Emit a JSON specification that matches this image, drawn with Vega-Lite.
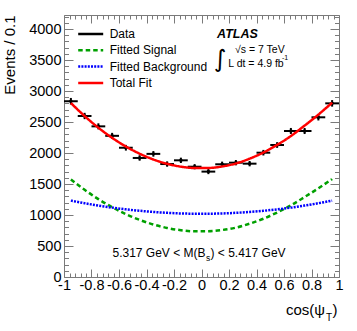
{
  "$schema": "https://vega.github.io/schema/vega-lite/v6.json",
  "width": 275,
  "height": 262,
  "autosize": {"type": "none"},
  "padding": {"left": 64, "top": 15, "right": 18, "bottom": 54},
  "background": "white",
  "config": {
    "view": {"stroke": "#7a7a7a", "strokeWidth": 1},
    "font": "Liberation Sans",
    "axis": {"domain": false, "grid": false, "tickColor": "#7a7a7a", "tickWidth": 1, "labelColor": "black", "labelFont": "Liberation Sans", "labelFontSize": 14.5, "titleFont": "Liberation Sans", "titleFontWeight": "normal", "titleColor": "black"}
  },
  "datasets": {
    "points": [
      {"x": -0.95, "xlo": -1.0, "xhi": -0.9, "y": 2835, "ylo": 2782, "yhi": 2888},
      {"x": -0.85, "xlo": -0.9, "xhi": -0.8, "y": 2597, "ylo": 2546, "yhi": 2648},
      {"x": -0.75, "xlo": -0.8, "xhi": -0.7, "y": 2430, "ylo": 2381, "yhi": 2479},
      {"x": -0.65, "xlo": -0.7, "xhi": -0.6, "y": 2277, "ylo": 2229, "yhi": 2325},
      {"x": -0.55, "xlo": -0.6, "xhi": -0.5, "y": 2085, "ylo": 2039, "yhi": 2131},
      {"x": -0.45, "xlo": -0.5, "xhi": -0.4, "y": 1920, "ylo": 1876, "yhi": 1964},
      {"x": -0.35, "xlo": -0.4, "xhi": -0.3, "y": 1986, "ylo": 1941, "yhi": 2031},
      {"x": -0.25, "xlo": -0.3, "xhi": -0.2, "y": 1822, "ylo": 1779, "yhi": 1865},
      {"x": -0.15, "xlo": -0.2, "xhi": -0.1, "y": 1882, "ylo": 1839, "yhi": 1925},
      {"x": -0.05, "xlo": -0.1, "xhi": 0.0, "y": 1779, "ylo": 1737, "yhi": 1821},
      {"x": 0.05, "xlo": 0.0, "xhi": 0.1, "y": 1700, "ylo": 1659, "yhi": 1741},
      {"x": 0.15, "xlo": 0.1, "xhi": 0.2, "y": 1818, "ylo": 1775, "yhi": 1861},
      {"x": 0.25, "xlo": 0.2, "xhi": 0.3, "y": 1844, "ylo": 1801, "yhi": 1887},
      {"x": 0.35, "xlo": 0.3, "xhi": 0.4, "y": 1828, "ylo": 1785, "yhi": 1871},
      {"x": 0.45, "xlo": 0.4, "xhi": 0.5, "y": 2005, "ylo": 1960, "yhi": 2050},
      {"x": 0.55, "xlo": 0.5, "xhi": 0.6, "y": 2129, "ylo": 2083, "yhi": 2175},
      {"x": 0.65, "xlo": 0.6, "xhi": 0.7, "y": 2355, "ylo": 2306, "yhi": 2404},
      {"x": 0.75, "xlo": 0.7, "xhi": 0.8, "y": 2355, "ylo": 2306, "yhi": 2404},
      {"x": 0.85, "xlo": 0.8, "xhi": 0.9, "y": 2576, "ylo": 2525, "yhi": 2627},
      {"x": 0.95, "xlo": 0.9, "xhi": 1.0, "y": 2801, "ylo": 2748, "yhi": 2854}
    ],
    "curves": [
      {"series": "Fitted Signal", "x": -0.95, "v": 1574},
      {"series": "Fitted Signal", "x": -0.85, "v": 1406},
      {"series": "Fitted Signal", "x": -0.75, "v": 1256},
      {"series": "Fitted Signal", "x": -0.65, "v": 1126},
      {"series": "Fitted Signal", "x": -0.55, "v": 1014},
      {"series": "Fitted Signal", "x": -0.45, "v": 921},
      {"series": "Fitted Signal", "x": -0.35, "v": 847},
      {"series": "Fitted Signal", "x": -0.25, "v": 791},
      {"series": "Fitted Signal", "x": -0.15, "v": 755},
      {"series": "Fitted Signal", "x": -0.05, "v": 737},
      {"series": "Fitted Signal", "x": 0.05, "v": 738},
      {"series": "Fitted Signal", "x": 0.15, "v": 758},
      {"series": "Fitted Signal", "x": 0.25, "v": 796},
      {"series": "Fitted Signal", "x": 0.35, "v": 860},
      {"series": "Fitted Signal", "x": 0.45, "v": 940},
      {"series": "Fitted Signal", "x": 0.55, "v": 1040},
      {"series": "Fitted Signal", "x": 0.65, "v": 1155},
      {"series": "Fitted Signal", "x": 0.75, "v": 1290},
      {"series": "Fitted Signal", "x": 0.85, "v": 1430},
      {"series": "Fitted Signal", "x": 0.95, "v": 1580},
      {"series": "Fitted Background", "x": -0.95, "v": 1232},
      {"series": "Fitted Background", "x": -0.85, "v": 1190},
      {"series": "Fitted Background", "x": -0.75, "v": 1152},
      {"series": "Fitted Background", "x": -0.65, "v": 1119},
      {"series": "Fitted Background", "x": -0.55, "v": 1091},
      {"series": "Fitted Background", "x": -0.45, "v": 1068},
      {"series": "Fitted Background", "x": -0.35, "v": 1049},
      {"series": "Fitted Background", "x": -0.25, "v": 1035},
      {"series": "Fitted Background", "x": -0.15, "v": 1025},
      {"series": "Fitted Background", "x": -0.05, "v": 1021},
      {"series": "Fitted Background", "x": 0.05, "v": 1021},
      {"series": "Fitted Background", "x": 0.15, "v": 1025},
      {"series": "Fitted Background", "x": 0.25, "v": 1035},
      {"series": "Fitted Background", "x": 0.35, "v": 1049},
      {"series": "Fitted Background", "x": 0.45, "v": 1068},
      {"series": "Fitted Background", "x": 0.55, "v": 1091},
      {"series": "Fitted Background", "x": 0.65, "v": 1119},
      {"series": "Fitted Background", "x": 0.75, "v": 1152},
      {"series": "Fitted Background", "x": 0.85, "v": 1190},
      {"series": "Fitted Background", "x": 0.95, "v": 1232},
      {"series": "Total Fit", "x": -0.95, "v": 2806},
      {"series": "Total Fit", "x": -0.85, "v": 2596},
      {"series": "Total Fit", "x": -0.75, "v": 2408},
      {"series": "Total Fit", "x": -0.65, "v": 2245},
      {"series": "Total Fit", "x": -0.55, "v": 2105},
      {"series": "Total Fit", "x": -0.45, "v": 1989},
      {"series": "Total Fit", "x": -0.35, "v": 1896},
      {"series": "Total Fit", "x": -0.25, "v": 1826},
      {"series": "Total Fit", "x": -0.15, "v": 1780},
      {"series": "Total Fit", "x": -0.05, "v": 1758},
      {"series": "Total Fit", "x": 0.05, "v": 1759},
      {"series": "Total Fit", "x": 0.15, "v": 1783},
      {"series": "Total Fit", "x": 0.25, "v": 1831},
      {"series": "Total Fit", "x": 0.35, "v": 1909},
      {"series": "Total Fit", "x": 0.45, "v": 2008},
      {"series": "Total Fit", "x": 0.55, "v": 2131},
      {"series": "Total Fit", "x": 0.65, "v": 2274},
      {"series": "Total Fit", "x": 0.75, "v": 2442},
      {"series": "Total Fit", "x": 0.85, "v": 2620},
      {"series": "Total Fit", "x": 0.95, "v": 2812}
    ]
  },
  "resolve": {"axis": {"x": "independent", "y": "independent"}},
  "layer": [
    {
      "data": {"name": "points"},
      "mark": {"type": "rule", "strokeWidth": 2, "color": "black"},
      "encoding": {
        "x": {"field": "xlo", "type": "quantitative", "scale": {"domain": [-1, 1], "nice": false, "zero": false},
          "axis": {"orient": "bottom", "title": null,
            "values": [-1,-0.96,-0.92,-0.88,-0.84,-0.8,-0.76,-0.72,-0.68,-0.64,-0.6,-0.56,-0.52,-0.48,-0.44,-0.4,-0.36,-0.32,-0.28,-0.24,-0.2,-0.16,-0.12,-0.08,-0.04,0,0.04,0.08,0.12,0.16,0.2,0.24,0.28,0.32,0.36,0.4,0.44,0.48,0.52,0.56,0.6,0.64,0.68,0.72,0.76,0.8,0.84,0.88,0.92,0.96,1],
            "labelExpr": "abs(datum.value*5-round(datum.value*5))<0.01 ? replace(format(datum.value, '.1~f'), '\u2212', '-') : ''",
            "tickSize": {"condition": {"test": "abs(datum.value*5-round(datum.value*5))<0.01", "value": -8}, "value": -4},
            "labelPadding": 9, "labelBaseline": "top", "labelFlush": false, "labelOverlap": false}},
        "x2": {"field": "xhi"},
        "y": {"field": "y", "type": "quantitative", "scale": {"domain": [0, 4226], "nice": false, "zero": true},
          "axis": {"orient": "left", "title": "Events / 0.1", "titleFontSize": 15, "titleAngle": -90, "titleX": -55, "titleY": 0, "titleAlign": "right", "titleBaseline": "middle", "titleAnchor": "end",
            "values": [0,100,200,300,400,500,600,700,800,900,1000,1100,1200,1300,1400,1500,1600,1700,1800,1900,2000,2100,2200,2300,2400,2500,2600,2700,2800,2900,3000,3100,3200,3300,3400,3500,3600,3700,3800,3900,4000,4100,4200],
            "format": "d",
            "labelExpr": "datum.value % 500 == 0 ? datum.label : ''",
            "tickSize": {"condition": {"test": "datum.value % 500 == 0", "value": -9}, "value": -4.5},
            "labelPadding": 12, "labelFlush": false, "labelOverlap": false}}
      }
    },
    {
      "data": {"name": "points"},
      "mark": {"type": "rule", "strokeWidth": 2, "color": "black"},
      "encoding": {
        "x": {"field": "x", "type": "quantitative", "scale": {"domain": [-1, 1], "nice": false, "zero": false},
          "axis": {"orient": "top", "title": null, "labels": false,
            "values": [-1,-0.96,-0.92,-0.88,-0.84,-0.8,-0.76,-0.72,-0.68,-0.64,-0.6,-0.56,-0.52,-0.48,-0.44,-0.4,-0.36,-0.32,-0.28,-0.24,-0.2,-0.16,-0.12,-0.08,-0.04,0,0.04,0.08,0.12,0.16,0.2,0.24,0.28,0.32,0.36,0.4,0.44,0.48,0.52,0.56,0.6,0.64,0.68,0.72,0.76,0.8,0.84,0.88,0.92,0.96,1],
            "tickSize": {"condition": {"test": "abs(datum.value*5-round(datum.value*5))<0.01", "value": -8}, "value": -4}}},
        "y": {"field": "ylo", "type": "quantitative", "scale": {"domain": [0, 4226], "nice": false, "zero": true},
          "axis": {"orient": "right", "title": null, "labels": false,
            "values": [0,100,200,300,400,500,600,700,800,900,1000,1100,1200,1300,1400,1500,1600,1700,1800,1900,2000,2100,2200,2300,2400,2500,2600,2700,2800,2900,3000,3100,3200,3300,3400,3500,3600,3700,3800,3900,4000,4100,4200],
            "tickSize": {"condition": {"test": "datum.value % 500 == 0", "value": -9}, "value": -4.5}}},
        "y2": {"field": "yhi"}
      }
    },
    {
      "data": {"name": "points"},
      "mark": {"type": "point", "filled": true, "size": 12, "color": "black", "opacity": 1},
      "encoding": {
        "x": {"field": "x", "type": "quantitative", "scale": {"domain": [-1, 1], "nice": false, "zero": false}, "axis": null},
        "y": {"field": "y", "type": "quantitative", "scale": {"domain": [0, 4226], "nice": false, "zero": true}, "axis": null}
      }
    },
    {
      "data": {"name": "curves"},
      "mark": {"type": "line", "strokeWidth": 2.5, "interpolate": "monotone"},
      "encoding": {
        "x": {"field": "x", "type": "quantitative", "scale": {"domain": [-1, 1], "nice": false, "zero": false}, "axis": null},
        "y": {"field": "v", "type": "quantitative", "scale": {"domain": [0, 4226], "nice": false, "zero": true}, "axis": null},
        "color": {"field": "series", "type": "nominal",
          "scale": {"domain": ["Data", "Fitted Signal", "Fitted Background", "Total Fit"], "range": ["black", "#00a000", "#0000ff", "#ff0000"]},
          "legend": {"title": null, "orient": "none", "legendX": 12.7, "legendY": 11, "symbolType": "stroke", "symbolSize": 625, "symbolStrokeWidth": 2.5, "labelFontSize": 12, "labelFont": "Liberation Sans", "labelColor": "black", "labelOffset": 5, "rowPadding": 0.3, "clipHeight": 16, "padding": 0}},
        "strokeDash": {"field": "series", "type": "nominal",
          "scale": {"domain": ["Data", "Fitted Signal", "Fitted Background", "Total Fit"], "range": [[1, 0], [4.5, 3], [2, 1.2], [1, 0]]},
          "legend": {"title": null, "orient": "none", "legendX": 12.7, "legendY": 11, "symbolType": "stroke", "symbolSize": 625, "symbolStrokeWidth": 2.5, "labelFontSize": 12, "labelFont": "Liberation Sans", "labelColor": "black", "labelOffset": 5, "rowPadding": 0.3, "clipHeight": 16, "padding": 0}}
      }
    },
    {
      "data": {"values": [{}]},
      "mark": {"type": "text", "text": "ATLAS", "font": "Liberation Sans", "fontSize": 12.5, "fontWeight": "bold", "fontStyle": "italic", "align": "center", "baseline": "middle", "color": "black"},
      "encoding": {
        "x": {"datum": 0.2611, "type": "quantitative", "scale": {"domain": [-1, 1], "nice": false, "zero": false}, "axis": null},
        "y": {"datum": 3919, "type": "quantitative", "scale": {"domain": [0, 4226], "nice": false, "zero": true}, "axis": null}
      }
    },
    {
      "data": {"values": [{}]},
      "mark": {"type": "text", "text": "√s = 7 TeV", "font": "Liberation Sans", "fontSize": 10.5, "align": "left", "baseline": "middle", "color": "black"},
      "encoding": {
        "x": {"datum": 0.2436, "type": "quantitative", "scale": {"domain": [-1, 1], "nice": false, "zero": false}, "axis": null},
        "y": {"datum": 3665, "type": "quantitative", "scale": {"domain": [0, 4226], "nice": false, "zero": true}, "axis": null}
      }
    },
    {
      "data": {"values": [{}]},
      "mark": {"type": "text", "text": "∫", "font": "DejaVu Sans", "fontSize": 24, "align": "center", "baseline": "middle", "color": "black"},
      "encoding": {
        "x": {"datum": 0.1367, "type": "quantitative", "scale": {"domain": [-1, 1], "nice": false, "zero": false}, "axis": null},
        "y": {"datum": 3500, "type": "quantitative", "scale": {"domain": [0, 4226], "nice": false, "zero": true}, "axis": null}
      }
    },
    {
      "data": {"values": [{}]},
      "mark": {"type": "text", "text": "L dt = 4.9 fb", "font": "Liberation Sans", "fontSize": 10.5, "align": "left", "baseline": "middle", "color": "black"},
      "encoding": {
        "x": {"datum": 0.1949, "type": "quantitative", "scale": {"domain": [-1, 1], "nice": false, "zero": false}, "axis": null},
        "y": {"datum": 3440, "type": "quantitative", "scale": {"domain": [0, 4226], "nice": false, "zero": true}, "axis": null}
      }
    },
    {
      "data": {"values": [{}]},
      "mark": {"type": "text", "text": "-1", "font": "Liberation Sans", "fontSize": 7, "align": "left", "baseline": "middle", "color": "black"},
      "encoding": {
        "x": {"datum": 0.5855, "type": "quantitative", "scale": {"domain": [-1, 1], "nice": false, "zero": false}, "axis": null},
        "y": {"datum": 3525, "type": "quantitative", "scale": {"domain": [0, 4226], "nice": false, "zero": true}, "axis": null}
      }
    },
    {
      "data": {"values": [{}]},
      "mark": {"type": "text", "text": "5.317 GeV < M(B", "font": "Liberation Sans", "fontSize": 12, "align": "right", "baseline": "middle", "color": "black"},
      "encoding": {
        "x": {"datum": 0.0291, "type": "quantitative", "scale": {"domain": [-1, 1], "nice": false, "zero": false}, "axis": null},
        "y": {"datum": 382, "type": "quantitative", "scale": {"domain": [0, 4226], "nice": false, "zero": true}, "axis": null}
      }
    },
    {
      "data": {"values": [{}]},
      "mark": {"type": "text", "text": "s", "font": "Liberation Sans", "fontSize": 8.5, "align": "left", "baseline": "middle", "color": "black"},
      "encoding": {
        "x": {"datum": 0.0327, "type": "quantitative", "scale": {"domain": [-1, 1], "nice": false, "zero": false}, "axis": null},
        "y": {"datum": 300, "type": "quantitative", "scale": {"domain": [0, 4226], "nice": false, "zero": true}, "axis": null}
      }
    },
    {
      "data": {"values": [{}]},
      "mark": {"type": "text", "text": ") < 5.417 GeV", "font": "Liberation Sans", "fontSize": 12, "align": "left", "baseline": "middle", "color": "black"},
      "encoding": {
        "x": {"datum": 0.0655, "type": "quantitative", "scale": {"domain": [-1, 1], "nice": false, "zero": false}, "axis": null},
        "y": {"datum": 382, "type": "quantitative", "scale": {"domain": [0, 4226], "nice": false, "zero": true}, "axis": null}
      }
    },
    {
      "data": {"values": [{}]},
      "mark": {"type": "text", "text": "cos(ψ", "font": "Liberation Sans", "fontSize": 15, "align": "right", "baseline": "middle", "color": "black"},
      "encoding": {
        "x": {"datum": 0.8982, "type": "quantitative", "scale": {"domain": [-1, 1], "nice": false, "zero": false}, "axis": null},
        "y": {"datum": -532, "type": "quantitative", "scale": {"domain": [0, 4226], "nice": false, "zero": true}, "axis": null}
      }
    },
    {
      "data": {"values": [{}]},
      "mark": {"type": "text", "text": "T", "font": "Liberation Sans", "fontSize": 10, "align": "left", "baseline": "middle", "color": "black"},
      "encoding": {
        "x": {"datum": 0.9055, "type": "quantitative", "scale": {"domain": [-1, 1], "nice": false, "zero": false}, "axis": null},
        "y": {"datum": -661, "type": "quantitative", "scale": {"domain": [0, 4226], "nice": false, "zero": true}, "axis": null}
      }
    },
    {
      "data": {"values": [{}]},
      "mark": {"type": "text", "text": ")", "font": "Liberation Sans", "fontSize": 15, "align": "left", "baseline": "middle", "color": "black"},
      "encoding": {
        "x": {"datum": 0.9527, "type": "quantitative", "scale": {"domain": [-1, 1], "nice": false, "zero": false}, "axis": null},
        "y": {"datum": -532, "type": "quantitative", "scale": {"domain": [0, 4226], "nice": false, "zero": true}, "axis": null}
      }
    }
  ]
}
